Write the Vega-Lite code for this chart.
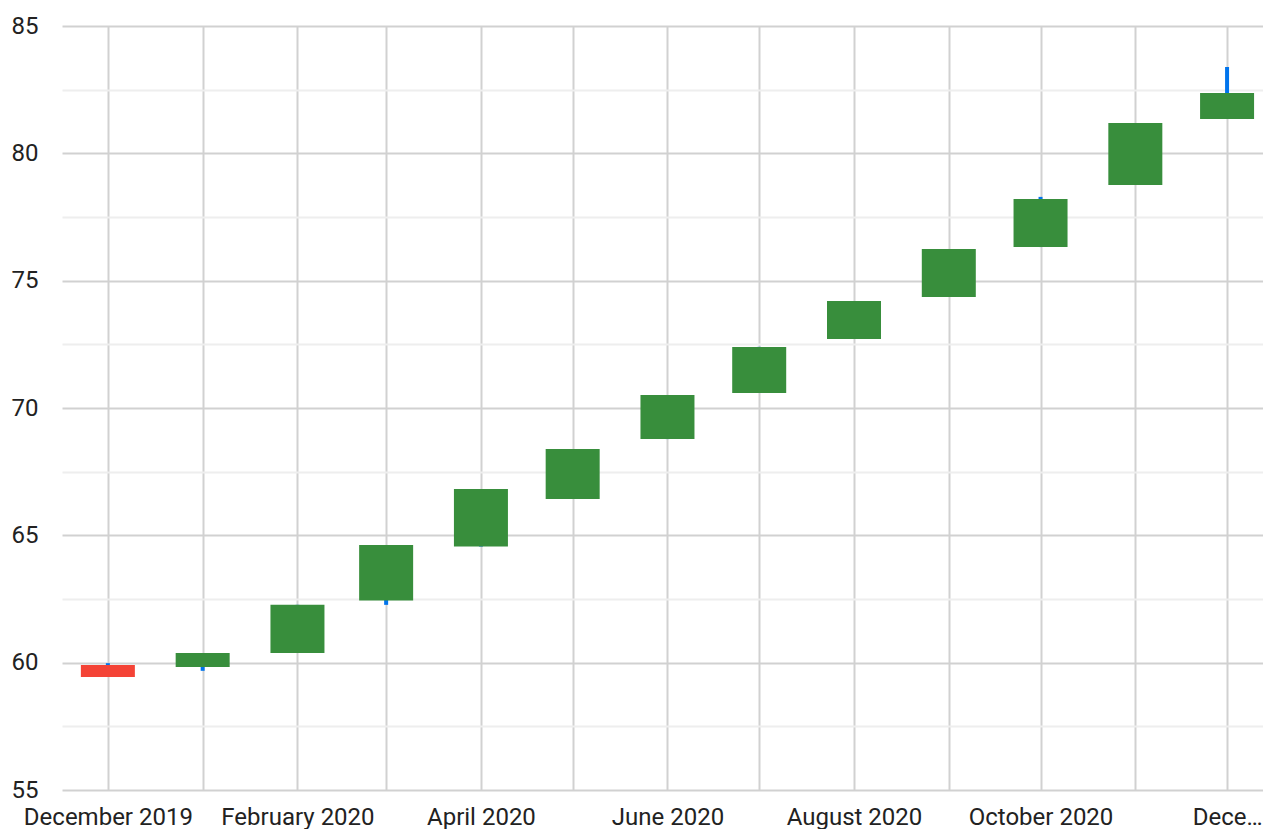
{
  "$schema": "https://vega.github.io/schema/vega-lite/v6.json",
  "autosize": {"type": "none"},
  "padding": {"left": 62, "top": 26, "right": 0, "bottom": 39},
  "width": 1201,
  "height": 764,
  "background": "white",
  "config": {
    "view": {"stroke": null},
    "font": "Roboto",
    "axis": {"labelFont": "Roboto", "labelColor": "#222222", "labelFontSize": 24, "domain": false, "ticks": false, "tickSize": 0}
  },
  "data": {
    "values": [
      {"date": "2019-12-01", "open": 59.91, "high": 59.98, "low": 59.44, "close": 59.44},
      {"date": "2020-01-01", "open": 59.83, "high": 60.38, "low": 59.68, "close": 60.38},
      {"date": "2020-02-01", "open": 60.38, "high": 62.27, "low": 60.38, "close": 62.27},
      {"date": "2020-03-01", "open": 62.44, "high": 64.62, "low": 62.27, "close": 64.62},
      {"date": "2020-04-01", "open": 64.56, "high": 66.82, "low": 64.56, "close": 66.82},
      {"date": "2020-05-01", "open": 66.43, "high": 68.39, "low": 66.43, "close": 68.39},
      {"date": "2020-06-01", "open": 68.78, "high": 70.51, "low": 68.78, "close": 70.51},
      {"date": "2020-07-01", "open": 70.59, "high": 72.40, "low": 70.59, "close": 72.40},
      {"date": "2020-08-01", "open": 72.71, "high": 74.20, "low": 72.71, "close": 74.20},
      {"date": "2020-09-01", "open": 74.36, "high": 76.24, "low": 74.36, "close": 76.24},
      {"date": "2020-10-01", "open": 76.32, "high": 78.29, "low": 76.32, "close": 78.21},
      {"date": "2020-11-01", "open": 78.76, "high": 81.19, "low": 78.76, "close": 81.19},
      {"date": "2020-12-01", "open": 81.35, "high": 83.39, "low": 81.35, "close": 82.37}
    ]
  },
  "encoding": {
    "x": {
      "field": "date",
      "type": "temporal",
      "title": null,
      "scale": {
        "type": "utc",
        "padding": 0,
        "domain": [
          {"year": 2019, "month": 11, "date": 16, "utc": true},
          {"year": 2020, "month": 12, "date": 12, "hours": 18, "utc": true}
        ]
      },
      "axis": {
        "tickCount": {"interval": "month", "step": 1},
        "grid": true,
        "gridColor": "#d1d1d1",
        "gridWidth": 2,
        "labelOverlap": false,
        "labelPadding": 15,
        "labelExpr": "utcmonth(datum.value) % 2 == 1 ? (utcFormat(datum.value, '%Y-%m') == '2020-12' ? 'Dece…' : utcFormat(datum.value, '%B %Y')) : ''"
      }
    },
    "y": {
      "type": "quantitative",
      "title": null,
      "scale": {"domain": [55, 85], "nice": false, "zero": false, "padding": 0},
      "axis": {
        "values": [55, 57.5, 60, 62.5, 65, 67.5, 70, 72.5, 75, 77.5, 80, 82.5, 85],
        "grid": true,
        "gridWidth": 2,
        "gridColor": {"condition": {"test": "datum.value % 5 == 0", "value": "#d1d1d1"}, "value": "#eeeeee"},
        "labelExpr": "datum.value % 5 == 0 ? datum.label : ''",
        "labelPadding": 24,
        "labelOverlap": false
      }
    }
  },
  "layer": [
    {
      "mark": {"type": "rule", "color": "#0074ec", "strokeWidth": 4},
      "encoding": {
        "y": {"field": "low", "type": "quantitative"},
        "y2": {"field": "high"}
      }
    },
    {
      "mark": {"type": "bar", "width": 54},
      "encoding": {
        "y": {"field": "open", "type": "quantitative"},
        "y2": {"field": "close"},
        "color": {
          "condition": {"test": "datum.open > datum.close", "value": "#f44336"},
          "value": "#388e3c"
        }
      }
    }
  ]
}
